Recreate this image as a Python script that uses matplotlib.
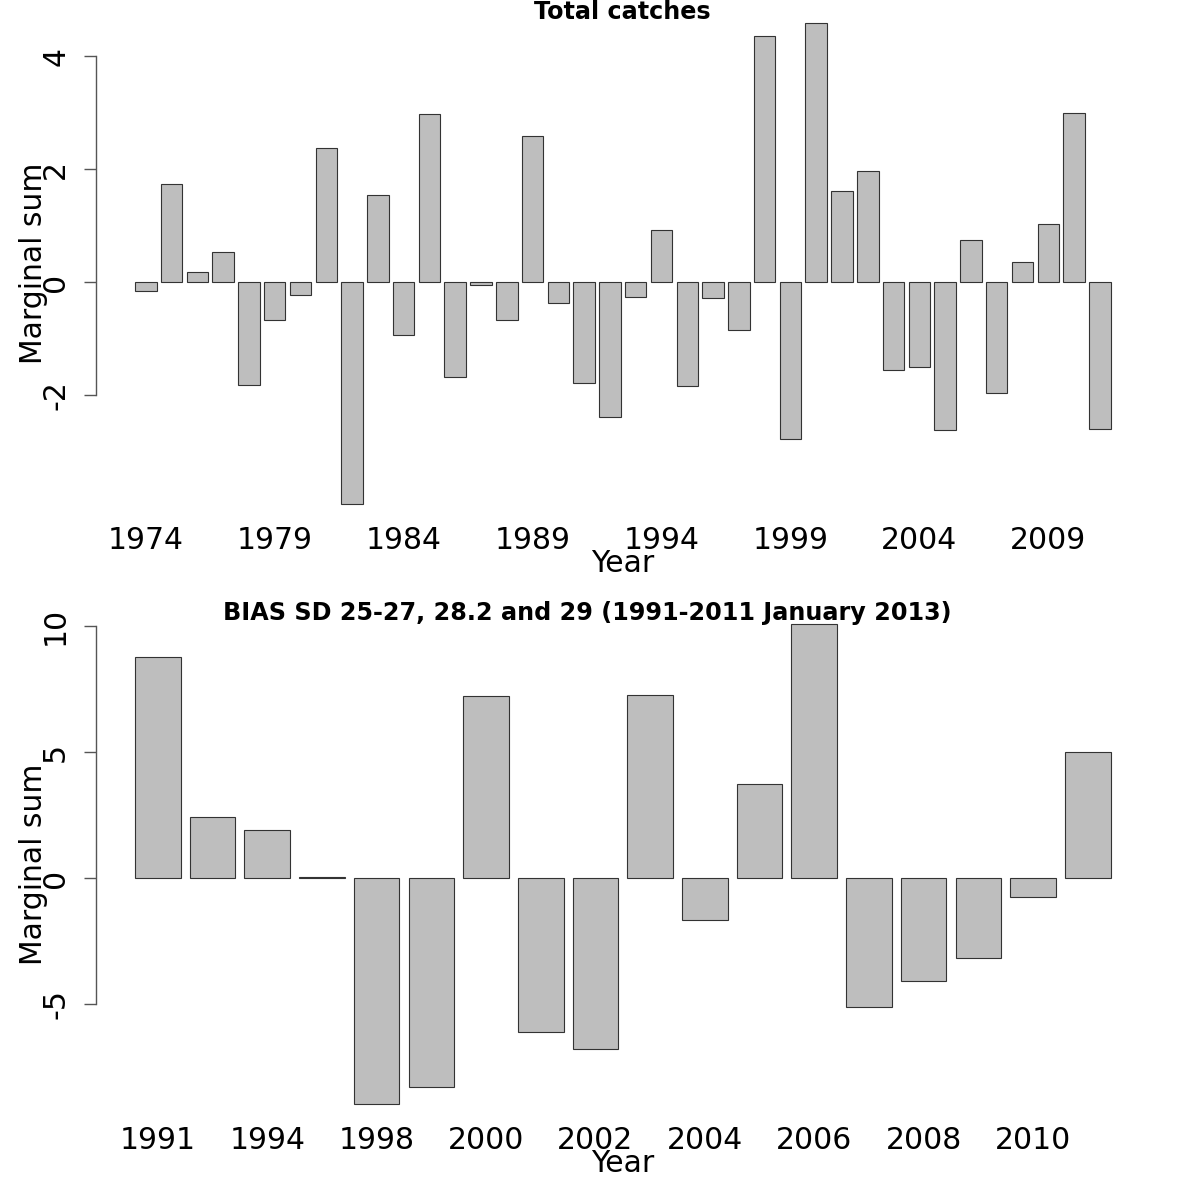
import numpy as np
import matplotlib
matplotlib.use('Agg')
import matplotlib.pyplot as plt

# Total catches, 1974-2011
years_top = list(range(1974, 2012))
values_top = [-0.16, 1.73, 0.18, 0.53, -1.82, -0.67, -0.23, 2.37, -3.93, 1.54,
              -0.94, 2.97, -1.68, -0.05, -0.67, 2.58, -0.37, -1.79, -2.39, -0.27,
              0.92, -1.84, -0.28, -0.85, 4.35, -2.78, 4.58, 1.61, 1.96, -1.56,
              -1.50, -2.62, 0.74, -1.96, 0.35, 1.03, 2.99, -2.60]

# BIAS survey
years_bot = [1991, 1993, 1994, 1996, 1998, 1999, 2000, 2001, 2002, 2003,
             2004, 2005, 2006, 2007, 2008, 2009, 2010, 2011]
values_bot = [8.77, 2.42, 1.90, 0.05, -8.97, -8.29, 7.22, -6.11, -6.79, 7.26,
              -1.67, 3.73, 10.08, -5.12, -4.09, -3.17, -0.75, 5.00]

FS = 21.5


def r_barplot(ax, years, values, title, yticks, label_every, title_x=0.5):
    n = len(values)
    x = 0.7 + 1.2 * np.arange(n)
    ax.bar(x, values, width=1.0, color='#bebebe', edgecolor='#333333', linewidth=0.8)
    lo, hi = 0.2, 1.2 * n
    d = 0.04 * (hi - lo)
    ax.set_xlim(lo - d, hi + d)
    ymin, ymax = min(min(values), 0), max(max(values), 0)
    dy = 0.04 * (ymax - ymin)
    ax.set_ylim(ymin - dy, ymax + dy)

    for s in ['top', 'right', 'bottom']:
        ax.spines[s].set_visible(False)
    ax.spines['left'].set_bounds(yticks[0], yticks[-1])
    ax.spines['left'].set_color('#555555')
    ax.spines['left'].set_linewidth(1.0)
    ax.set_yticks(yticks)
    ax.set_yticklabels([str(t) for t in yticks], rotation=90, va='center', fontsize=FS)
    ax.tick_params(axis='y', direction='out', length=8.6, width=1.0, color='#555555', pad=10)

    idx = list(range(0, n, label_every))
    ax.set_xticks(x[idx])
    ax.set_xticklabels([str(years[i]) for i in idx], fontsize=FS)
    ax.tick_params(axis='x', length=0, pad=2)
    ax.set_xlabel('Year', fontsize=FS, labelpad=-4.5)
    ax.set_ylabel('Marginal sum', fontsize=FS, labelpad=-5)
    ax.text(title_x, 0.985, title, transform=ax.transAxes, ha='center', va='center',
            fontsize=17.2, fontweight='bold')


fig = plt.figure(figsize=(12, 12), dpi=100)
ax1 = fig.add_axes([0.08, 0.564, 0.878, 0.4325])
ax2 = fig.add_axes([0.08, 0.064, 0.878, 0.432])

r_barplot(ax1, years_top, values_top, 'Total catches', [-2, 0, 2, 4], 5)
r_barplot(ax2, years_bot, values_bot,
          'BIAS SD 25-27, 28.2 and 29 (1991-2011 January 2013)', [-5, 0, 5, 10], 2,
          title_x=0.466)

fig.savefig('out.png', dpi=100)
